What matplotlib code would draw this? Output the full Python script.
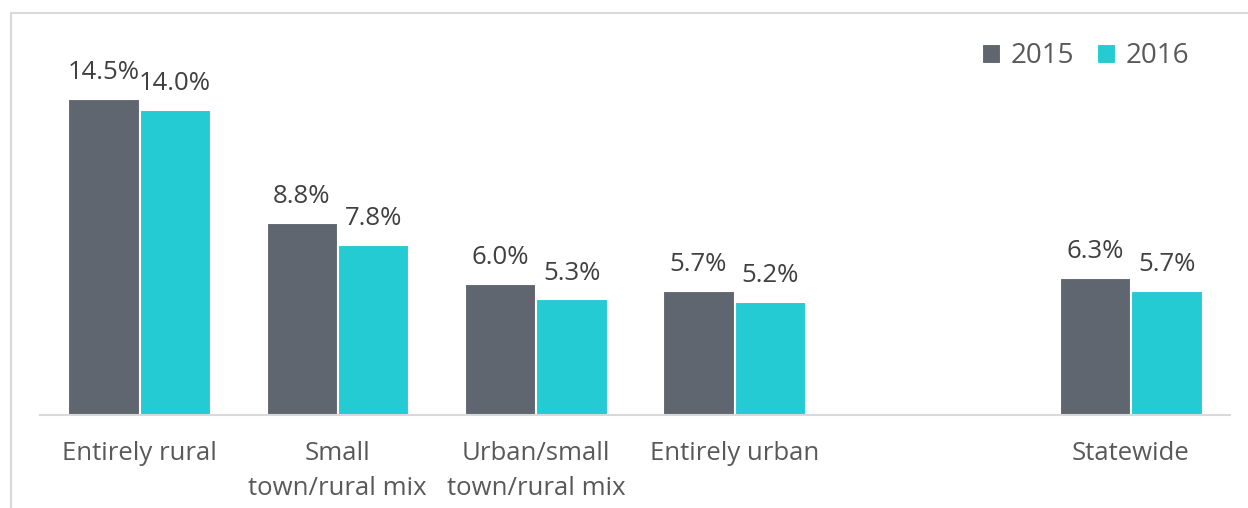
import numpy as np
import matplotlib
matplotlib.use("Agg")
import matplotlib.pyplot as plt
from matplotlib.patches import Rectangle

plt.rcParams['font.family'] = ['Open Sans', 'DejaVu Sans']

categories = ['Entirely rural', 'Small\ntown/rural mix', 'Urban/small\ntown/rural mix',
              'Entirely urban', '', 'Statewide']
vals_2015 = [14.5, 8.8, 6.0, 5.7, None, 6.3]
vals_2016 = [14.0, 7.8, 5.3, 5.2, None, 5.7]
series_names = ['2015', '2016']
colors = ['#5f6670', '#24cbd3']

fig = plt.figure(figsize=(12.48, 5.08), dpi=100)
ax = fig.add_axes([40 / 1248, 93 / 508, 1190 / 1248, 349 / 508])

# light grey chart frame (top and left edges visible, rest runs off the image)
fig.patches.append(Rectangle((11 / 1248, -0.1), 1.2, 1 - 13 / 508 + 0.1,
                             transform=fig.transFigure, fill=False,
                             edgecolor='#d9d9d9', linewidth=1.5))

x = np.arange(len(categories))
w = 0.355
for i, (vals, name, c) in enumerate(zip([vals_2015, vals_2016], series_names, colors)):
    xs = [xi for xi, v in zip(x, vals) if v is not None]
    ys = [v for v in vals if v is not None]
    offset = (i - 0.5) * (w + 0.005)
    bars = ax.bar(np.array(xs) + offset, ys, width=w, color=c, edgecolor='white',
                  linewidth=0.8, label=name)
    for b, v in zip(bars, ys):
        ax.annotate(f'{v:.1f}%', (b.get_x() + b.get_width() / 2, v),
                    xytext=(0, 10), textcoords='offset points', ha='center',
                    va='bottom', fontsize=18.5, color='#404040')

ax.set_xlim(-0.5, len(categories) - 0.5)
ax.set_ylim(0, 16)
ax.set_xticks(x)
ax.set_xticklabels(categories, fontsize=18.5, color='#595959', linespacing=1.5, va='top')
ax.tick_params(axis='x', length=0, pad=19)
ax.set_yticks([])
for s in ['top', 'right', 'left']:
    ax.spines[s].set_visible(False)
ax.spines['bottom'].set_color('#d9d9d9')
ax.spines['bottom'].set_linewidth(1.5)

ax.legend(loc='upper right', bbox_to_anchor=(0.987, 1.14), ncol=2, frameon=False,
          fontsize=20, handlelength=0.65, handleheight=0.65, handletextpad=0.4,
          columnspacing=0.8, labelcolor='#595959')

fig.savefig('out.png', dpi=100)
